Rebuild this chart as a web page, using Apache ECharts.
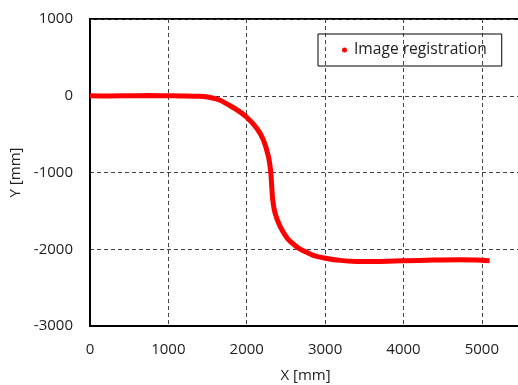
<!DOCTYPE html>
<html>
<head>
<meta charset="utf-8">
<script src="https://cdn.jsdelivr.net/npm/echarts@6/dist/echarts.min.js"></script>
<style>html,body{margin:0;padding:0;background:#fff;}#c{width:518px;height:385px;}</style>
</head>
<body>
<div id="c"></div>
<script>
const seriesName = 'Image registration';
const xValues = [0, 250, 500, 750, 1000, 1150, 1400, 1550, 1660, 1787, 1900, 2000, 2128, 2213, 2277, 2306, 2319, 2332, 2362, 2426, 2532, 2660, 2723, 2851, 3021, 3191, 3404, 3660, 4000, 4383, 4723, 5000, 5100];
const yValues = [0, -3, 0, 2, 0, -2, -8, -25, -58, -130, -200, -280, -424, -576, -793, -992, -1183, -1356, -1529, -1703, -1876, -1985, -2020, -2080, -2120, -2145, -2158, -2160, -2150, -2141, -2137, -2143, -2150];
const xTickLabels = [0, 1000, 2000, 3000, 4000, 5000];
const yTickLabels = [-3000, -2000, -1000, 0, 1000];
const xTicks = { min: 0, max: 5500, interval: 1000 };
const yTicks = { min: -3000, max: 1000, interval: 1000 };

const data = xValues.map((x, i) => [x, yValues[i]]);
const font = '"Open Sans", sans-serif';
const chart = echarts.init(document.getElementById('c'));
chart.setOption({
  animation: false,
  grid: { left: 90, top: 19, right: -3, bottom: 59, show: true, borderColor: '#000', borderWidth: 2, containLabel: false, outerBoundsMode: 'none' },
  legend: {
    left: 318, top: 34,
    data: [{ name: seriesName, icon: 'circle' }],
    itemWidth: 5, itemHeight: 5,
    borderColor: '#000', borderWidth: 1,
    padding: [8, 15, 8, 24],
    textStyle: { fontFamily: font, fontSize: 15.6, color: '#222', padding: [0, 0, 0, 2] }
  },
  xAxis: {
    type: 'value', min: xTicks.min, max: xTicks.max, interval: xTicks.interval,
    name: 'X [mm]', nameLocation: 'middle', nameGap: 42,
    nameTextStyle: { fontFamily: font, fontSize: 15, color: '#222' },
    axisLine: { onZero: false, lineStyle: { color: '#000', width: 2 } },
    axisTick: { show: false },
    axisLabel: { fontFamily: font, fontSize: 15, color: '#222', margin: 16,
      customValues: xTickLabels, formatter: v => (xTickLabels.indexOf(v) >= 0 ? String(v) : '') },
    splitLine: { show: true, lineStyle: { type: [4, 3], color: '#444', width: 1 } }
  },
  yAxis: {
    type: 'value', min: yTicks.min, max: yTicks.max, interval: yTicks.interval,
    name: 'Y [mm]', nameLocation: 'middle', nameGap: 60,
    nameTextStyle: { fontFamily: font, fontSize: 15, color: '#222' },
    axisLine: { onZero: false, lineStyle: { color: '#000', width: 2 } },
    axisTick: { show: false },
    axisLabel: { fontFamily: font, fontSize: 15, color: '#222', margin: 17,
      customValues: yTickLabels, formatter: v => String(v) },
    splitLine: { show: true, lineStyle: { type: [4, 3], color: '#444', width: 1 } }
  },
  series: [{
    name: seriesName, type: 'line', data: data, smooth: 0.3, smoothMonotone: 'none',
    showSymbol: false, symbol: 'circle',
    lineStyle: { color: '#ff0000', width: 5 },
    itemStyle: { color: '#ff0000' }
  }]
});
</script>
</body>
</html>
